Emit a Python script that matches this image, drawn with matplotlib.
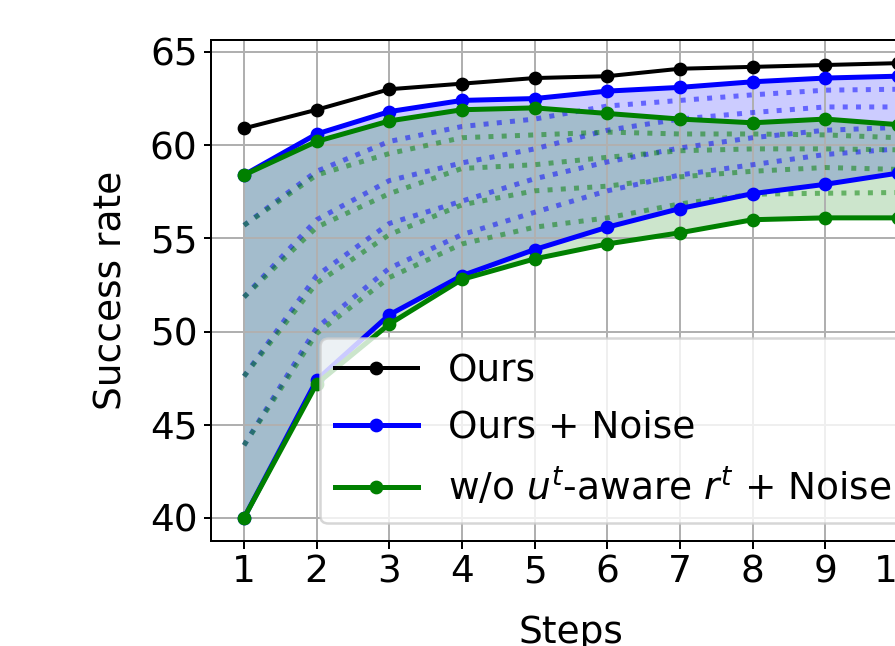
import matplotlib
matplotlib.use('Agg')
import matplotlib.pyplot as plt
import numpy as np

steps = np.arange(1, 11)

ours = [60.9, 61.9, 63.0, 63.3, 63.6, 63.7, 64.1, 64.2, 64.3, 64.4]
# Ours + Noise: upper / lower bound
ours_noise_hi = [58.4, 60.6, 61.8, 62.4, 62.5, 62.9, 63.1, 63.4, 63.6, 63.7]
ours_noise_lo = [40.0, 47.4, 50.9, 53.0, 54.4, 55.6, 56.6, 57.4, 57.9, 58.5]
# w/o u^t-aware r^t + Noise: upper / lower bound
wo_noise_hi = [58.4, 60.2, 61.3, 61.9, 62.0, 61.7, 61.4, 61.2, 61.4, 61.1]
wo_noise_lo = [40.0, 47.2, 50.4, 52.8, 53.9, 54.7, 55.3, 56.0, 56.1, 56.1]

# intermediate noise levels (dotted)
ours_mid = [
    [55.7, 58.6, 60.2, 61.0, 61.4, 62.1, 62.4, 62.7, 62.95, 63.0],
    [51.85, 56.0, 58.1, 59.05, 59.8, 60.8, 61.4, 61.75, 62.05, 62.05],
    [47.6, 53.0, 55.8, 57.0, 58.2, 59.1, 59.85, 60.4, 60.8, 60.95],
    [43.9, 50.2, 53.4, 55.2, 56.4, 57.55, 58.4, 58.95, 59.5, 59.8],
]
wo_mid = [
    [55.7, 58.4, 59.55, 60.4, 60.55, 60.7, 60.6, 60.6, 60.55, 60.4],
    [51.85, 55.6, 57.4, 58.75, 58.95, 59.35, 59.7, 59.8, 59.8, 59.75],
    [47.6, 52.6, 55.2, 56.8, 57.55, 57.8, 58.3, 58.6, 58.8, 58.7],
    [43.9, 49.9, 52.9, 54.7, 55.6, 56.1, 56.85, 57.37, 57.42, 57.46],
]

plt.rcParams['font.family'] = ['DejaVu Sans']
plt.rcParams['font.size'] = 15

fig = plt.figure(figsize=(895 / 180, 646 / 180), dpi=180)
# the axes runs past the right edge of the figure (cropped figure)
ax = fig.add_axes([211.3 / 895, 1 - 540.7 / 646, 719.4 / 895, 500.3 / 646])

ax.fill_between(steps, ours_noise_lo, ours_noise_hi, color='blue', alpha=0.2, linewidth=0)
ax.fill_between(steps, wo_noise_lo, wo_noise_hi, color='green', alpha=0.2, linewidth=0)

for ys in ours_mid:
    ax.plot(steps, ys, ':', color='blue', alpha=0.5, linewidth=2)
for ys in wo_mid:
    ax.plot(steps, ys, ':', color='green', alpha=0.5, linewidth=2)

ax.plot(steps, ours, '-o', color='black', linewidth=1.6, markersize=4.5, label='Ours')
ax.plot(steps, ours_noise_hi, '-o', color='blue', linewidth=2, markersize=4.5, label='Ours + Noise')
ax.plot(steps, ours_noise_lo, '-o', color='blue', linewidth=2, markersize=4.5)
ax.plot(steps, wo_noise_hi, '-o', color='green', linewidth=2, markersize=4.5,
        label='w/o $u^t$-aware $r^t$ + Noise')
ax.plot(steps, wo_noise_lo, '-o', color='green', linewidth=2, markersize=4.5)

ax.set_xticks(steps)
ax.tick_params(length=3, pad=2.5)
ax.set_xlabel('Steps', labelpad=10)
ax.set_ylabel('Success rate', labelpad=8)
ax.grid(True)

ax.legend(loc='upper left', mode='expand', handlelength=2.2, borderaxespad=0,
          labelspacing=0.55,
          bbox_to_anchor=(320 / 895, 1 - 521 / 646, 700 / 895, 183 / 646),
          bbox_transform=fig.transFigure)

fig.savefig('out.png', dpi=180)
